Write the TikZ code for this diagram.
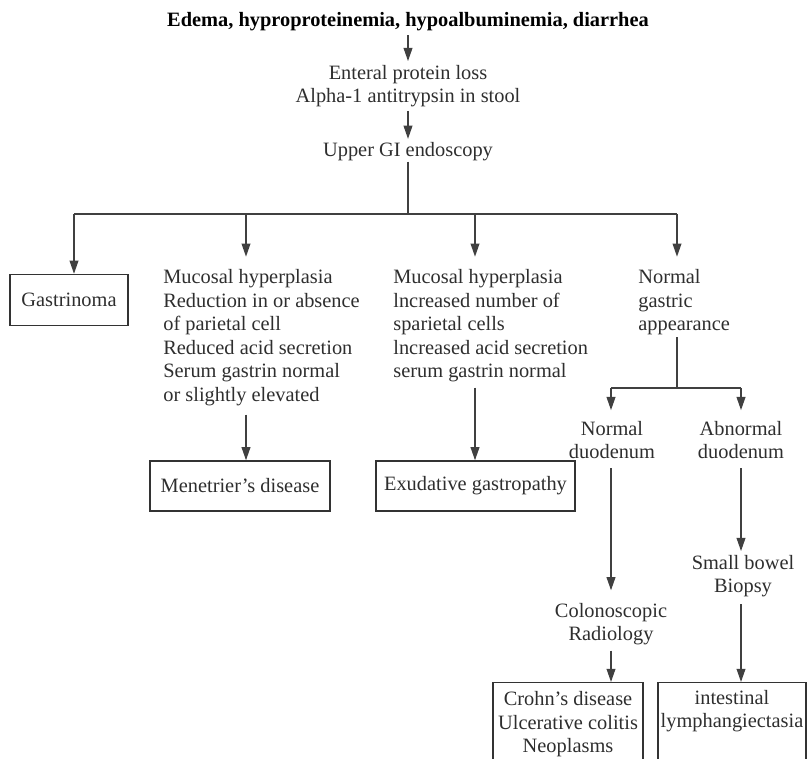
\documentclass[tikz,border=0pt]{standalone}
\usepackage{fontspec}
\setmainfont{Liberation Serif}
\usetikzlibrary{arrows.meta,positioning}

\tikzset{
  txt/.style={text=black!82, font=\fontsize{11.6}{13.4}\selectfont, inner sep=0pt, align=left},
  ctr/.style={txt, align=center},
  hd/.style={ctr, text=black, font=\bfseries\fontsize{11.6}{13.4}\selectfont},
  box/.style={ctr, draw=black!80, line width=0.8pt},
  flow/.style={draw=black!75, line width=0.8pt},
  arr/.style={flow, ->, >={Triangle[length=7.5pt,width=5pt]}}
}

\begin{document}
\begin{tikzpicture}[x=0.02cm,y=-0.02cm]
\useasboundingbox (0,0) rectangle (807,759);

% top of the chart
\node[hd] (sympt) at (408,22) {Edema, hyproproteinemia, hypoalbuminemia, diarrhea};
\node[ctr] (loss) at (408,86) {Enteral protein loss\\Alpha-1 antitrypsin in stool};
\node[ctr] (egd) at (408,152) {Upper GI endoscopy};

\coordinate (split) at (408,214);
\coordinate (b1) at (74,214);
\coordinate (b2) at (246,214);
\coordinate (b3) at (475,214);
\coordinate (b4) at (677,214);

% second row
\node[box, minimum width=2.36cm, minimum height=1.02cm] (gastr) at (69,300) {Gastrinoma};
\node[txt, anchor=north west] (meno) at (163,269) {Mucosal hyperplasia\\Reduction in or absence\\of parietal cell\\Reduced acid secretion\\Serum gastrin normal\\or slightly elevated};
\node[txt, anchor=north west] (hyper) at (393,269) {Mucosal hyperplasia\\lncreased number of\\sparietal cells\\lncreased acid secretion\\serum gastrin normal};
\node[txt, anchor=north west] (normg) at (638,269) {Normal\\gastric\\appearance};

\node[box, minimum width=3.6cm, minimum height=1.0cm] (men) at (240,486) {Menetrier's disease};
\node[box, minimum width=3.98cm, minimum height=1.0cm] (exu) at (475.5,486) {Exudative gastropathy};

% right branch
\coordinate (fork) at (677,388);
\coordinate (f1) at (611,388);
\coordinate (f2) at (741,388);
\node[ctr] (nduo) at (612,440) {Normal\\duodenum};
\node[ctr] (aduo) at (741,440) {Abnormal\\duodenum};
\node[ctr] (colo) at (611,624) {Colonoscopic\\Radiology};
\node[ctr] (sbb) at (743,576) {Small bowel\\Biopsy};

\node[box, anchor=north, minimum width=3.0cm, minimum height=1.66cm] (crohn) at (568,682) {Crohn's disease\\Ulcerative colitis\\Neoplasms};
\node[box, anchor=north, minimum width=2.96cm, minimum height=1.66cm] (lymph) at (732,682) {intestinal\\lymphangiectasia\\\strut};

% connectors
\path (sympt) edge[arr, shorten <=2pt, shorten >=2pt] (loss);
\path (loss) edge[arr, shorten <=2pt, shorten >=2pt] (egd);
\draw[flow] (egd.south) -- (split);
\draw[flow] (b1) -- (b4);
\path (b1) edge[arr] (b1 |- gastr.north);
\path (b2) edge[arr, shorten >=7pt] (b2 |- meno.north);
\path (b3) edge[arr, shorten >=7pt] (b3 |- hyper.north);
\path (b4) edge[arr, shorten >=7pt] (b4 |- normg.north);
\path (b2 |- meno.south) edge[arr, shorten <=5pt] (b2 |- men.north);
\path (b3 |- hyper.south) edge[arr, shorten <=3pt] (b3 |- exu.north);
\draw[flow] (b4 |- normg.south) ++(0,2) -- (fork);
\draw[flow] (f1) -- (f2);
\path (f1) edge[arr, shorten >=6pt] (f1 |- nduo.north);
\path (f2) edge[arr, shorten >=6pt] (f2 |- aduo.north);
\path (f1 |- nduo.south) edge[arr, shorten <=5pt, shorten >=7pt] (f1 |- colo.north);
\path (f2 |- aduo.south) edge[arr, shorten <=5pt, shorten >=2pt] (f2 |- sbb.north);
\path (colo) edge[arr, shorten <=3pt] (colo |- crohn.north);
\path (f2 |- sbb.south) edge[arr, shorten <=4pt] (f2 |- lymph.north);
\end{tikzpicture}
\end{document}
